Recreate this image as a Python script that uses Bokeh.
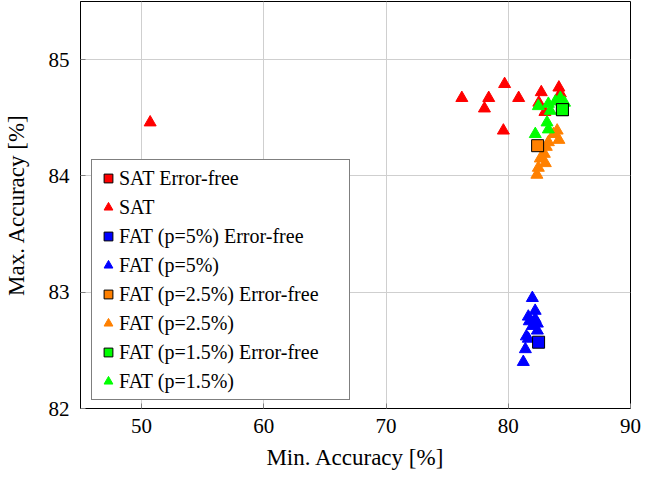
from bokeh.plotting import figure
from bokeh.models import Legend, LegendItem, Range1d, FixedTicker
from bokeh.embed import file_html
from bokeh.resources import INLINE

# --- data ---
sat_x = [50.7, 76.2, 78.4, 78.05, 79.7, 79.6, 80.85, 82.7, 82.5, 84.14, 84.26, 83.0]
sat_y = [84.46, 84.67, 84.67, 84.58, 84.79, 84.39, 84.67, 84.72, 84.63, 84.76, 84.71, 84.55]
sat_ef_x = [84.43]
sat_ef_y = [84.57]

fat5_x = [81.97, 82.2, 81.64, 82.2, 81.72, 82.38, 81.97, 82.38, 81.48, 81.64, 81.4, 81.23]
fat5_y = [82.95, 82.84, 82.79, 82.77, 82.75, 82.73, 82.71, 82.67, 82.62, 82.60, 82.51, 82.40]
fat5_ef_x = [82.48]
fat5_ef_y = [82.57]

fat25_x = [84.0, 84.14, 83.28, 83.11, 82.95, 82.62, 83.03, 82.46, 82.34, 83.7]
fat25_y = [84.39, 84.31, 84.29, 84.25, 84.19, 84.15, 84.11, 84.07, 84.01, 84.36]
fat25_ef_x = [82.4]
fat25_ef_y = [84.26]

fat15_x = [82.46, 83.28, 83.44, 83.85, 84.26, 84.6, 83.17, 83.28, 82.21]
fat15_y = [84.60, 84.62, 84.56, 84.64, 84.67, 84.63, 84.46, 84.40, 84.36]
fat15_ef_x = [84.43]
fat15_ef_y = [84.57]

x_ticks = [50, 60, 70, 80, 90]
y_ticks = [82, 83, 84, 85]

labels = ["SAT Error-free", "SAT", "FAT (p=5%) Error-free", "FAT (p=5%)",
          "FAT (p=2.5%) Error-free", "FAT (p=2.5%)", "FAT (p=1.5%) Error-free", "FAT (p=1.5%)"]

RED, BLUE, ORANGE, GREEN = "#ff0000", "#0000ff", "#ff8000", "#00ff00"
FONT = "Liberation Serif"

p = figure(frame_width=550, frame_height=407, min_border_left=77, min_border_right=18,
           min_border_top=1, min_border_bottom=63,
           x_range=Range1d(45, 90), y_range=Range1d(82, 85.5),
           output_backend="svg", toolbar_location=None,
           x_axis_label="Min. Accuracy [%]", y_axis_label="Max. Accuracy [%]")

p.outline_line_color = "black"
p.outline_line_width = 1
p.background_fill_color = "white"
p.border_fill_color = "white"

p.xaxis.ticker = FixedTicker(ticks=x_ticks)
p.yaxis.ticker = FixedTicker(ticks=y_ticks)
for ax in (p.xaxis, p.yaxis):
    ax.axis_line_color = "black"
    ax.major_tick_in = 5
    ax.major_tick_out = 0
    ax.major_tick_line_color = "#808080"
    ax.minor_tick_line_color = None
    ax.major_label_text_font = FONT
    ax.major_label_text_font_size = "21px"
    ax.major_label_text_color = "black"
    ax.axis_label_text_font = FONT
    ax.axis_label_text_font_size = "23px"
    ax.axis_label_text_font_style = "normal"
    ax.axis_label_text_color = "black"
p.xaxis.major_label_standoff = 10
p.yaxis.major_label_standoff = 11
p.xaxis.axis_label_standoff = 9
p.yaxis.axis_label_standoff = 17

p.grid.grid_line_color = "#cfcfcf"
p.grid.grid_line_width = 1

TS = 12
SS = 12
r_sat = p.scatter(sat_x, sat_y, marker="triangle", size=TS, fill_color=RED, line_color=RED)
r_f5 = p.scatter(fat5_x, fat5_y, marker="triangle", size=TS, fill_color=BLUE, line_color=BLUE)
r_f25 = p.scatter(fat25_x, fat25_y, marker="triangle", size=TS, fill_color=ORANGE, line_color=ORANGE)
r_f15 = p.scatter(fat15_x, fat15_y, marker="triangle", size=TS, fill_color=GREEN, line_color=GREEN)

r_sat_ef = p.scatter(sat_ef_x, sat_ef_y, marker="square", size=SS, fill_color=RED, line_color="black")
r_f5_ef = p.scatter(fat5_ef_x, fat5_ef_y, marker="square", size=SS, fill_color=BLUE, line_color="black")
r_f25_ef = p.scatter(fat25_ef_x, fat25_ef_y, marker="square", size=SS, fill_color=ORANGE, line_color="black")
r_f15_ef = p.scatter(fat15_ef_x, fat15_ef_y, marker="square", size=SS, fill_color=GREEN, line_color="black")

items = [
    LegendItem(label=labels[0], renderers=[r_sat_ef]),
    LegendItem(label=labels[1], renderers=[r_sat]),
    LegendItem(label=labels[2], renderers=[r_f5_ef]),
    LegendItem(label=labels[3], renderers=[r_f5]),
    LegendItem(label=labels[4], renderers=[r_f25_ef]),
    LegendItem(label=labels[5], renderers=[r_f25]),
    LegendItem(label=labels[6], renderers=[r_f15_ef]),
    LegendItem(label=labels[7], renderers=[r_f15]),
]
legend = Legend(items=items, location=(11, 8), orientation="vertical")
legend.border_line_color = "black"
legend.border_line_width = 1
legend.background_fill_alpha = 1
legend.label_text_font = FONT
legend.label_text_font_size = "20px"
legend.label_text_color = "black"
legend.padding = 5
legend.margin = 0
legend.spacing = 3
legend.glyph_width = 22
legend.glyph_height = 26
legend.label_height = 20
legend.label_width = 225
legend.label_standoff = -3
p.add_layout(legend, "center")

open("out.html", "w").write(file_html(p, INLINE))
